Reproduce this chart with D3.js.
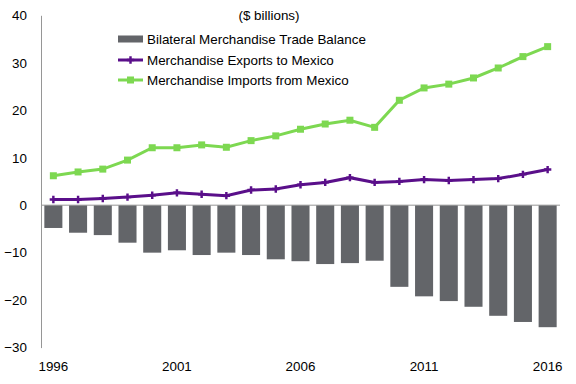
<!DOCTYPE html>
<html><head><meta charset="utf-8">
<script src="https://cdn.jsdelivr.net/npm/d3@7"></script>
<style>body{margin:0;background:#fff}svg{display:block}text{font-family:"Liberation Sans",Arial,sans-serif}</style>
</head><body>
<svg id="c" width="576" height="384"></svg>
<script>
const years = d3.range(1996, 2017);
const balance = [-4.8,-5.8,-6.3,-7.9,-10.0,-9.5,-10.5,-10.0,-10.5,-11.4,-11.8,-12.4,-12.2,-11.7,-17.2,-19.2,-20.2,-21.4,-23.3,-24.6,-25.7];
const exportsMx = [1.2,1.2,1.4,1.7,2.1,2.6,2.3,2.0,3.2,3.4,4.3,4.8,5.8,4.8,5.0,5.4,5.2,5.4,5.6,6.5,7.5];
const importsMx = [6.2,7.0,7.6,9.5,12.1,12.1,12.7,12.2,13.6,14.6,16.0,17.1,17.9,16.4,22.1,24.7,25.5,26.8,28.9,31.3,33.4];
const yTicks = [40,30,20,10,0,-10,-20,-30];
const xTickYears = [1996,2001,2006,2011,2016];
const legendTitle = "($ billions)";
const names = ["Bilateral Merchandise Trade Balance","Merchandise Exports to Mexico","Merchandise Imports from Mexico"];

(function(){
const svg = d3.select("#c");
const mL = 41, mR = 560, mT = 15.3, mB = 347.6;
const x = d3.scaleBand().domain(years).range([mL, mR]).paddingInner(0.27).paddingOuter(0.135);
const y = d3.scaleLinear().domain([-30, 40]).range([mB, mT]);
const cx = d => x(d) + x.bandwidth()/2;
const gray = "#636569", purple = "#5a0f8a", green = "#7dd851";
const fs = 13.4;

svg.append("g").selectAll("rect").data(years).join("rect")
  .attr("x", d => x(d)).attr("width", x.bandwidth())
  .attr("y", y(0)).attr("height", (d,i) => y(balance[i]) - y(0))
  .attr("fill", gray);

svg.append("line").attr("x1", mL).attr("x2", mR).attr("y1", y(0)).attr("y2", y(0))
  .attr("stroke", "#969696").attr("stroke-width", 1);

const ya = svg.append("g").attr("transform", `translate(${mL},0)`)
  .call(d3.axisLeft(y).tickValues(yTicks).tickSize(0).tickPadding(14).tickFormat(d3.format("d")));
ya.select(".domain").attr("stroke", "#969696");
ya.selectAll("text").attr("font-size", fs).attr("fill", "#000");

svg.append("g").selectAll("text").data(xTickYears).join("text")
  .attr("x", d => cx(d)).attr("y", 371).attr("text-anchor", "middle")
  .attr("font-size", fs).attr("fill", "#000").text(d => d);

const line = arr => d3.line().x((d,i) => cx(years[i])).y(d => y(d))(arr);
svg.append("path").attr("d", line(importsMx)).attr("fill", "none").attr("stroke", green).attr("stroke-width", 3);
svg.append("g").selectAll("rect").data(importsMx).join("rect")
  .attr("x", (d,i) => cx(years[i]) - 3.5).attr("y", d => y(d) - 3.5)
  .attr("width", 7).attr("height", 7).attr("fill", green);

svg.append("path").attr("d", line(exportsMx)).attr("fill", "none").attr("stroke", purple).attr("stroke-width", 3);
const plus = d3.symbol().type(d3.symbolCross).size(30);
svg.append("g").selectAll("path").data(exportsMx).join("path")
  .attr("transform", (d,i) => `translate(${cx(years[i])},${y(d)})`)
  .attr("d", plus).attr("fill", purple);

const lg = svg.append("g");
lg.append("text").attr("x", 269).attr("y", 20).attr("text-anchor", "middle")
  .attr("font-size", fs).attr("fill", "#000").text(legendTitle);
const rows = [39, 60, 80];
lg.append("rect").attr("x", 118).attr("y", rows[0]-3.5).attr("width", 25).attr("height", 7).attr("fill", gray);
lg.append("line").attr("x1", 118).attr("x2", 143).attr("y1", rows[1]).attr("y2", rows[1]).attr("stroke", purple).attr("stroke-width", 3);
lg.append("path").attr("transform", `translate(130.5,${rows[1]})`).attr("d", plus).attr("fill", purple);
lg.append("line").attr("x1", 118).attr("x2", 143).attr("y1", rows[2]).attr("y2", rows[2]).attr("stroke", green).attr("stroke-width", 3);
lg.append("rect").attr("x", 127).attr("y", rows[2]-3.5).attr("width", 7).attr("height", 7).attr("fill", green);
lg.selectAll("text.n").data(names).join("text").attr("class","n")
  .attr("x", 147).attr("y", (d,i) => rows[i] + 4.5)
  .attr("font-size", fs).attr("fill", "#000").text(d => d);
})();
</script>
</body></html>
